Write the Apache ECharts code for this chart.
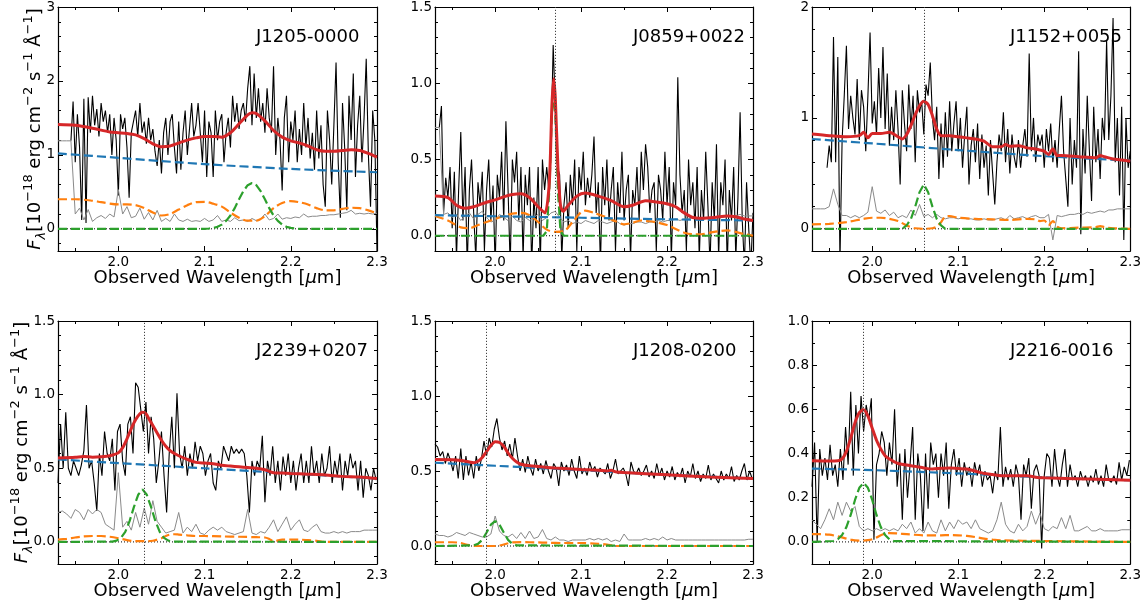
<!DOCTYPE html>
<html><head><meta charset="utf-8">
<script src="https://cdn.jsdelivr.net/npm/echarts@6/dist/echarts.min.js"></script>
<style>html,body{margin:0;padding:0;background:#fff}#c{width:1144px;height:605px}</style>
</head><body><div id="c"></div>
<script>
// ---------- axes / tick values ----------
const X_MIN = 1.93, X_MAX = 2.30;
const xMajorTicks = [2.0, 2.1, 2.2, 2.3];
const xMinorTicks = [1.95, 2.05, 2.15, 2.25];
const panelNames = ['J1205-0000', 'J0859+0022', 'J1152+0055', 'J2239+0207', 'J1208-0200', 'J2216-0016'];
const yMins = [-0.3, -0.1, -0.2, -0.15, -0.12, -0.1];
const yMaxs = [3, 1.5, 2, 1.5, 1.5, 1.0];
const yMajorTicks = [[0,1,2,3],[0,0.5,1,1.5],[0,1,2],[0,0.5,1,1.5],[0,0.5,1,1.5],[0,0.2,0.4,0.6,0.8,1.0]];
const yMinorTicks = [
  [-0.2,0.2,0.4,0.6,0.8,1.2,1.4,1.6,1.8,2.2,2.4,2.6,2.8],
  [0.1,0.2,0.3,0.4,0.6,0.7,0.8,0.9,1.1,1.2,1.3,1.4],
  [0.2,0.4,0.6,0.8,1.2,1.4,1.6,1.8],
  [-0.1,0.1,0.2,0.3,0.4,0.6,0.7,0.8,0.9,1.1,1.2,1.3,1.4],
  [-0.1,0.1,0.2,0.3,0.4,0.6,0.7,0.8,0.9,1.1,1.2,1.3,1.4],
  [0.1,0.3,0.5,0.7,0.9]
];
const yLabelDigits = [0,1,0,1,1,1];
const lineCenters = [null, 2.068, 2.06, 2.028, 1.991, 1.986];

// ---------- spectra (observed flux, black) ----------
const p1FluxStart = 1.945, p1FluxStep = 0.0025;
const p1Flux = [1.19,1.72,0.9,1.55,1.1,0.12,1.76,0.08,1.78,1.3,
1.8,1.4,1.62,1.25,1.7,1.45,1.6,1.3,1.55,1.0,
1.5,1.2,0.45,1.55,1.35,1.5,1.1,0.42,1.3,1.45,
1.6,1.25,1.7,1.3,1.45,1.15,1.5,1.2,1.35,1.05,
0.85,1.2,0.75,1.3,1.5,1.0,1.45,1.55,1.1,0.75,
1.45,0.8,1.3,1.6,1.0,1.35,1.7,1.25,1.4,1.7,
1.3,0.9,1.6,0.7,1.45,1.3,0.7,1.6,1.2,1.45,
1.55,0.9,1.3,1.5,1.1,1.8,1.45,1.7,1.35,1.6,
1.7,1.45,1.9,2.2,1.4,2.1,1.5,1.9,1.45,1.7,
1.3,1.9,1.5,1.3,2.2,1.0,1.5,1.2,0.52,1.5,
1.8,0.9,1.45,1.2,1.6,0.9,1.35,1.0,1.7,1.1,
1.5,0.95,1.3,0.8,1.6,0.95,1.4,0.6,0.3,1.6,
1.2,0.6,1.4,2.25,0.9,0.15,1.7,1.1,0.25,1.8,
1.2,2.1,0.7,1.4,1.8,0.9,1.5,2.3,1.0,0.3,
1.6,1.2,-0.3];
const p2FluxStart = 1.935, p2FluxStep = 0.0025;
const p2Flux = [0.71,0.85,0.15,0.38,0.25,0.45,0.05,0.42,-0.15,0.3,
0.68,0.1,0.45,-0.2,0.3,0.5,0.15,-0.15,0.35,0.2,
0.42,-0.1,0.3,0.5,0.1,0.33,-0.2,0.4,0.25,0.55,
0.1,0.75,0.3,-0.2,0.5,0.35,0.55,0.1,0.45,-0.15,
0.4,0.2,0.45,-0.2,0.25,0.05,0.45,-0.2,0.5,0.3,
0.45,0.3,0.6,1.25,0.85,0.45,0.4,-0.15,0.2,0.35,
0.05,0.4,0.2,0.5,-0.1,0.45,0.3,0.55,0.2,0.38,
0.25,0.4,0.65,0.15,0.35,-0.2,0.45,0.2,0.5,0.1,
0.3,0.45,-0.1,0.35,0.15,0.55,0.1,0.3,0.4,-0.15,
0.3,0.2,0.45,0.1,0.55,0.3,0.6,0.45,0.15,0.3,
0.35,-0.1,0.4,0.3,0.1,0.55,0.2,0.45,-0.15,0.35,
0.2,1.04,0.4,0.15,0.3,-0.1,0.5,0.2,0.35,0.05,
0.45,-0.15,0.3,0.1,0.55,0.2,-0.2,0.35,0.1,0.6,
-0.15,0.35,0.2,0.5,-0.2,0.3,0.1,0.45,-0.15,0.25,
0.81,0.1,-0.2,0.35,0.05,-0.2,0.15];
const p3FluxStart = 1.9475, p3FluxStep = 0.0025;
const p3Flux = [0.55,0.75,0.6,1.73,0.6,1.55,-0.3,0.8,1.2,1.65,
0.9,1.2,1.0,0.85,1.35,0.8,1.25,1.1,0.7,1.2,
1.77,0.95,1.15,0.85,1.45,1.0,1.64,0.9,1.4,0.75,
1.1,0.8,1.25,0.9,0.4,1.25,0.95,0.7,1.3,0.9,
1.2,0.6,1.25,1.05,1.15,0.85,1.3,1.2,1.5,1.0,
0.8,1.1,0.45,0.95,0.55,1.05,0.65,1.15,0.7,0.95,
1.15,0.7,1.0,0.55,0.85,1.1,0.4,0.75,0.9,0.6,
0.95,0.45,0.85,0.55,0.75,0.3,0.8,0.5,0.22,0.6,
0.85,0.7,1.05,0.6,0.9,0.5,0.85,0.65,0.55,0.8,
0.55,0.75,0.9,0.65,1.58,0.7,1.0,0.6,0.85,0.75,
0.85,0.55,0.9,0.7,0.95,0.6,0.8,0.55,0.9,1.2,
0.7,0.45,0.2,1.0,0.4,0.8,0.55,1.6,-0.05,0.9,
0.5,1.2,0.7,0.25,1.1,0.6,0.9,0.45,1.0,0.8,
1.7,0.8,1.2,1.9,0.6,1.0,0.3,1.1,-0.1,1.0,
0.55,0.7];
const p4FluxStart = 1.93, p4FluxStep = 0.003;
const p4Flux = [0.4,0.8,0.5,0.88,0.5,0.45,0.55,0.5,0.45,0.52,
0.62,0.93,0.5,0.55,0.4,0.21,0.6,0.45,0.75,0.6,
0.55,0.7,0.35,0.75,0.8,0.55,0.45,0.8,0.85,0.6,
1.08,1.05,0.9,0.75,0.95,0.6,0.85,0.7,0.4,0.55,
0.75,0.45,0.2,0.6,0.85,0.5,1.01,0.6,0.5,0.65,
0.45,0.6,0.5,0.68,0.55,0.65,0.6,0.45,0.55,0.6,
0.4,0.35,0.55,0.5,0.65,0.6,0.55,0.65,0.6,0.63,
0.6,0.63,0.6,0.45,0.2,0.55,0.45,0.55,0.5,0.72,
0.27,0.55,0.45,0.65,0.4,0.55,0.35,0.58,0.45,0.6,
0.4,0.55,0.35,0.5,0.6,0.4,0.55,0.4,0.65,0.45,
0.55,0.4,0.6,0.45,0.5,0.65,0.4,0.55,0.45,0.6,
0.35,0.55,0.45,0.6,0.5,0.55,0.35,0.55,0.3,0.5,
0.45,0.35,0.5,0.42];
const p5FluxStart = 1.93, p5FluxStep = 0.003;
const p5Flux = [0.68,0.66,0.6,0.63,0.55,0.62,0.57,0.5,0.6,0.45,
0.65,0.44,0.6,0.47,0.56,0.45,0.6,0.5,0.58,0.7,
0.6,0.72,0.66,0.78,0.85,0.72,0.64,0.7,0.6,0.68,
0.58,0.72,0.6,0.5,0.58,0.49,0.6,0.52,0.47,0.58,
0.5,0.55,0.48,0.57,0.5,0.45,0.55,0.52,0.4,0.56,
0.5,0.54,0.47,0.58,0.5,0.45,0.6,0.48,0.52,0.47,
0.56,0.5,0.53,0.46,0.52,0.5,0.48,0.55,0.45,0.5,
0.58,0.48,0.5,0.52,0.48,0.4,0.56,0.5,0.48,0.52,
0.47,0.5,0.54,0.46,0.5,0.45,0.55,0.47,0.52,0.44,
0.5,0.46,0.53,0.44,0.49,0.46,0.52,0.42,0.5,0.46,
0.55,0.45,0.5,0.43,0.48,0.45,0.54,0.44,0.48,0.45,
0.42,0.5,0.44,0.48,0.45,0.53,0.43,0.47,0.44,0.5,
0.55,0.44,0.5,0.45];
const p6FluxStart = 1.93, p6FluxStep = 0.003;
const p6Flux = [0.25,0.45,0.0,0.42,0.3,0.38,0.28,0.44,0.3,0.35,
0.25,0.42,0.28,0.52,0.35,0.68,0.3,0.62,0.4,0.66,
0.5,0.62,0.55,0.65,0.01,0.35,0.4,0.5,0.45,0.3,
0.45,0.35,0.6,0.25,0.4,0.1,0.42,0.2,0.35,0.52,
0.1,0.4,0.3,0.05,0.4,0.15,0.45,0.35,0.4,0.2,
0.4,0.3,0.45,0.15,0.35,0.42,0.3,0.38,0.25,0.36,
0.3,0.34,0.25,0.36,0.3,0.35,0.25,0.32,0.28,0.3,
0.22,0.32,0.28,0.52,0.25,0.34,0.28,0.33,0.25,0.35,
0.3,0.1,0.35,0.3,0.38,0.15,0.32,0.35,0.3,-0.03,
0.3,0.4,0.38,0.25,0.42,0.3,0.25,0.35,0.42,0.25,
0.35,0.28,0.3,0.25,0.32,0.28,0.3,0.25,0.3,0.27,
0.33,0.26,0.3,0.25,0.35,0.28,0.27,0.3,0.26,0.36,
0.28,0.34,0.3,0.37];

// ---------- error spectra (grey), start 1.93, step 0.005 ----------
const errStart = 1.93, errStep = 0.005;
const p1Err = [1.19,1.19,1.19,1.19,
0.2,0.28,0.12,0.26,0.1,0.15,0.18,0.14,0.2,0.16,
0.53,0.2,0.3,0.15,0.17,0.28,0.13,0.22,0.12,0.25,
0.1,0.14,0.1,0.2,0.12,0.1,0.13,0.1,0.11,0.1,
0.14,0.1,0.12,0.18,0.1,0.12,0.1,0.15,0.11,0.12,
0.1,0.14,0.11,0.13,0.2,0.12,0.14,0.2,0.13,0.15,
0.14,0.16,0.15,0.2,0.16,0.17,0.17,0.18,0.18,0.19,
0.19,0.2,0.21,0.22,0.25,0.2,0.21,0.2,0.21,0.2,
0.21];
const p2Err = [0.71,0.71,0.14,0.15,0.12,0.14,0.1,0.13,0.15,0.11,
0.14,0.16,0.12,0.09,0.1,0.14,0.12,0.1,0.13,0.1,
0.09,0.12,0.1,0.12,0.14,0.1,0.12,0.15,0.16,0.12,
0.09,0.1,0.08,0.09,0.08,0.1,0.09,0.08,0.1,0.09,
0.08,0.09,0.1,0.08,0.07,0.08,0.08,0.09,0.09,0.08,
0.09,0.09,0.1,0.09,0.1,0.1,0.11,0.1,0.11,0.11,
0.12,0.11,0.12,0.12,0.12,0.12,0.13,0.12,0.13,0.13,
0.13,0.14,0.13,0.13,0.13];
const p3Err = [0.18,0.18,0.18,0.18,0.2,0.36,0.22,0.12,0.12,0.1,
0.12,0.1,0.12,0.15,0.38,0.16,0.14,0.17,0.12,0.15,
0.1,0.12,0.1,0.17,0.12,0.22,0.11,0.13,0.1,0.13,
0.1,0.09,0.1,0.1,0.09,0.1,0.09,0.09,0.08,0.08,
0.09,0.08,0.08,0.09,0.1,0.08,0.12,0.09,0.1,0.11,
0.09,0.11,0.12,0.1,0.1,0.13,-0.1,0.12,0.11,0.12,
0.13,0.13,0.14,0.13,0.15,0.14,0.15,0.16,0.15,0.17,
0.17,0.18,0.18,0.18,0.18];
const p4Err = [0.2,0.21,0.19,0.16,0.22,0.2,0.15,0.22,0.19,0.22,
0.2,0.12,0.1,0.08,0.47,0.1,0.14,0.08,0.2,0.1,
0.23,0.12,0.28,0.14,0.1,0.06,0.07,0.08,0.2,0.06,
0.1,0.07,0.12,0.06,0.05,0.08,0.1,0.08,0.1,0.07,
0.06,0.05,0.06,0.07,0.22,0.06,0.05,0.07,0.06,0.1,
0.15,0.07,0.12,0.17,0.08,0.12,0.15,0.08,0.07,0.1,
0.12,0.07,0.06,0.06,0.07,0.06,0.07,0.06,0.07,0.07,
0.07,0.08,0.08,0.08,0.08];
const p5Err = [0.08,0.07,0.07,0.06,0.07,0.09,0.08,0.07,0.09,0.08,
0.07,0.06,0.06,0.08,0.2,0.1,0.07,0.06,0.08,0.05,
0.09,0.05,0.1,0.05,0.06,0.11,0.05,0.04,0.06,0.04,
0.04,0.03,0.04,0.04,0.04,0.04,0.05,0.04,0.05,0.04,
0.05,0.03,0.04,0.03,0.08,0.04,0.04,0.04,0.04,0.05,
0.04,0.05,0.04,0.06,0.04,0.05,0.04,0.04,0.04,0.04,
0.04,0.04,0.04,0.04,0.04,0.04,0.04,0.04,0.04,0.04,
0.04,0.04,0.04,0.045,0.045];
const p6Err = [0.1,0.08,0.06,0.1,0.15,0.1,0.18,0.12,0.18,0.14,
0.16,0.07,0.05,0.06,0.05,0.06,0.05,0.06,0.05,0.06,
0.05,0.08,0.06,0.09,0.04,0.06,0.04,0.09,0.05,0.04,
0.1,0.05,0.09,0.06,0.1,0.08,0.09,0.06,0.1,0.06,
0.05,0.04,0.05,0.1,0.18,0.08,0.05,0.04,0.08,0.05,
0.07,0.14,0.08,0.13,0.06,0.05,0.07,0.06,0.11,0.06,
0.12,0.05,0.05,0.06,0.07,0.05,0.05,0.06,0.05,0.05,
0.05,0.05,0.055,0.055,0.055];

// ---------- best-fit model (red) ----------
const p1ModelX = [1.93,1.95,1.97,1.99,2.0,2.01,2.02,2.03,2.04,2.05,2.06,2.07,2.08,2.09,2.1,2.11,2.12,2.13,2.14,2.15,2.155,2.16,2.17,2.18,2.19,2.2,2.21,2.22,2.23,2.24,2.25,2.26,2.27,2.28,2.29,2.3];
const p1ModelY = [1.41,1.40,1.36,1.31,1.30,1.29,1.27,1.22,1.15,1.11,1.12,1.16,1.20,1.23,1.25,1.25,1.24,1.30,1.42,1.54,1.57,1.56,1.46,1.33,1.24,1.19,1.16,1.12,1.07,1.05,1.05,1.06,1.07,1.06,1.02,0.97];
const p2ModelX = [1.93,1.945,1.955,1.965,1.975,1.99,2.0,2.01,2.02,2.03,2.04,2.05,2.058,2.063,2.066,2.068,2.07,2.073,2.076,2.079,2.085,2.095,2.105,2.12,2.135,2.15,2.16,2.175,2.19,2.2,2.21,2.22,2.23,2.24,2.255,2.27,2.28,2.29,2.3];
const p2ModelY = [0.26,0.25,0.2,0.18,0.19,0.22,0.235,0.255,0.27,0.275,0.25,0.19,0.15,0.35,0.85,1.03,0.9,0.45,0.2,0.16,0.2,0.26,0.28,0.26,0.23,0.19,0.2,0.23,0.22,0.21,0.19,0.15,0.12,0.115,0.12,0.13,0.125,0.11,0.1];
const p3ModelX = [1.93,1.95,1.97,1.985,1.99,1.995,2.0,2.01,2.02,2.03,2.035,2.04,2.045,2.05,2.055,2.06,2.065,2.07,2.075,2.08,2.09,2.1,2.11,2.12,2.13,2.14,2.15,2.155,2.16,2.17,2.18,2.19,2.195,2.2,2.205,2.21,2.215,2.22,2.24,2.26,2.265,2.27,2.28,2.29,2.3];
const p3ModelY = [0.855,0.84,0.83,0.84,0.87,0.82,0.86,0.86,0.87,0.83,0.81,0.85,0.93,1.03,1.11,1.15,1.12,1.02,0.9,0.84,0.84,0.83,0.82,0.81,0.79,0.74,0.74,0.76,0.745,0.75,0.73,0.72,0.71,0.7,0.67,0.72,0.66,0.66,0.65,0.64,0.66,0.65,0.63,0.62,0.61];
const p4ModelX = [1.93,1.95,1.96,1.97,1.98,1.99,2.0,2.005,2.01,2.015,2.02,2.025,2.028,2.032,2.036,2.04,2.045,2.05,2.055,2.06,2.065,2.07,2.08,2.09,2.1,2.11,2.12,2.13,2.14,2.15,2.16,2.17,2.18,2.19,2.2,2.22,2.24,2.26,2.28,2.3];
const p4ModelY = [0.57,0.575,0.58,0.575,0.578,0.585,0.605,0.64,0.7,0.77,0.83,0.87,0.88,0.87,0.83,0.79,0.74,0.69,0.65,0.62,0.6,0.585,0.56,0.54,0.535,0.53,0.52,0.515,0.51,0.505,0.5,0.49,0.47,0.468,0.465,0.46,0.455,0.445,0.44,0.43];
const p5ModelX = [1.93,1.95,1.96,1.97,1.975,1.98,1.985,1.99,1.995,2.0,2.005,2.01,2.015,2.02,2.025,2.03,2.04,2.05,2.07,2.1,2.12,2.13,2.135,2.14,2.15,2.2,2.25,2.3];
const p5ModelY = [0.576,0.575,0.57,0.56,0.555,0.565,0.59,0.63,0.67,0.695,0.69,0.665,0.62,0.585,0.56,0.545,0.535,0.53,0.52,0.51,0.505,0.5,0.505,0.495,0.49,0.475,0.46,0.45];
const p6ModelX = [1.93,1.95,1.96,1.965,1.97,1.975,1.98,1.985,1.99,1.995,2.0,2.005,2.01,2.015,2.02,2.03,2.04,2.05,2.06,2.07,2.08,2.09,2.1,2.11,2.12,2.13,2.14,2.15,2.16,2.18,2.19,2.2,2.25,2.3];
const p6ModelY = [0.367,0.366,0.367,0.375,0.41,0.47,0.54,0.585,0.598,0.57,0.515,0.46,0.42,0.39,0.375,0.355,0.348,0.342,0.335,0.33,0.333,0.335,0.332,0.33,0.32,0.31,0.305,0.3,0.3,0.3,0.293,0.29,0.285,0.279];

// ---------- continuum (blue dashed) ----------
const contX = [1.93, 2.0, 2.1, 2.2, 2.3];
const p1Cont = [1.02, 0.96, 0.875, 0.81, 0.765];
const p2Cont = [0.135, 0.128, 0.118, 0.108, 0.10];
const p3Cont = [0.81, 0.77, 0.71, 0.655, 0.615];
const p4Cont = [0.56, 0.535, 0.5, 0.465, 0.43];
const p5Cont = [0.555, 0.535, 0.505, 0.475, 0.45];
const p6Cont = [0.332, 0.325, 0.31, 0.292, 0.279];

// ---------- Fe / other component (orange dashed) ----------
const p1OrangeX = [1.93,1.95,1.97,1.98,2.0,2.01,2.02,2.03,2.04,2.05,2.06,2.07,2.08,2.09,2.1,2.11,2.12,2.13,2.14,2.15,2.16,2.17,2.18,2.19,2.2,2.21,2.22,2.23,2.24,2.25,2.26,2.27,2.28,2.29,2.3];
const p1OrangeY = [0.40,0.40,0.38,0.36,0.33,0.33,0.32,0.28,0.22,0.18,0.2,0.26,0.32,0.36,0.365,0.34,0.3,0.22,0.15,0.11,0.11,0.17,0.28,0.35,0.375,0.36,0.33,0.28,0.25,0.25,0.27,0.285,0.28,0.25,0.21];
const p2OrangeX = [1.93,1.945,1.96,1.97,1.98,1.99,2.0,2.01,2.02,2.03,2.04,2.05,2.06,2.07,2.08,2.09,2.1,2.105,2.115,2.13,2.14,2.15,2.16,2.17,2.18,2.19,2.2,2.21,2.22,2.23,2.24,2.25,2.26,2.27,2.28,2.29,2.3];
const p2OrangeY = [0.13,0.1,0.055,0.05,0.07,0.09,0.11,0.13,0.145,0.15,0.135,0.09,0.04,0.025,0.03,0.09,0.155,0.165,0.15,0.12,0.095,0.075,0.085,0.1,0.095,0.085,0.07,0.045,0.02,0.01,0.01,0.02,0.03,0.035,0.025,0.01,0.0];
const p3OrangeX = [1.93,1.95,1.97,1.99,2.0,2.01,2.02,2.03,2.04,2.045,2.05,2.06,2.07,2.075,2.08,2.085,2.09,2.1,2.12,2.14,2.16,2.18,2.19,2.195,2.2,2.205,2.21,2.215,2.22,2.24,2.26,2.265,2.27,2.28,2.3];
const p3OrangeY = [0.04,0.045,0.06,0.09,0.1,0.1,0.09,0.07,0.03,0.015,0.005,0.0,0.005,0.02,0.06,0.11,0.115,0.1,0.09,0.085,0.08,0.09,0.085,0.07,0.075,0.03,0.07,0.02,0.005,0.01,0.015,0.025,0.015,0.005,0.0];
const p4OrangeX = [1.93,1.94,1.95,1.96,1.97,1.98,1.99,2.0,2.01,2.02,2.03,2.04,2.05,2.055,2.06,2.065,2.07,2.08,2.09,2.1,2.12,2.14,2.16,2.17,2.175,2.18,2.185,2.19,2.2,2.21,2.22,2.23,2.24,2.3];
const p4OrangeY = [0.015,0.02,0.03,0.038,0.04,0.04,0.035,0.025,0.012,0.005,0.005,0.008,0.025,0.04,0.05,0.052,0.05,0.045,0.04,0.04,0.037,0.035,0.032,0.03,0.02,0.005,0.01,0.015,0.015,0.015,0.012,0.008,0.0,0.0];
const p5OrangeX = [1.93,1.95,1.96,1.965,1.97,1.975,1.98,2.0,2.005,2.01,2.015,2.02,2.03,2.04,2.05,2.06,2.08,2.1,2.12,2.13,2.135,2.14,2.3];
const p5OrangeY = [0.025,0.025,0.02,0.012,0.006,0.002,0,0,0.003,0.01,0.018,0.024,0.026,0.025,0.024,0.022,0.02,0.02,0.015,0.01,0.005,0,0];
const p6OrangeX = [1.93,1.94,1.95,1.96,1.97,1.975,1.98,1.99,1.995,2.0,2.005,2.01,2.015,2.02,2.03,2.04,2.06,2.08,2.09,2.1,2.11,2.12,2.13,2.14,2.15,2.2,2.3];
const p6OrangeY = [0.035,0.035,0.033,0.025,0.015,0.01,0.007,0.006,0.008,0.012,0.02,0.03,0.037,0.04,0.038,0.035,0.03,0.03,0.031,0.03,0.027,0.022,0.015,0.01,0.007,0.004,0.0];

// ---------- emission line (green dashed) ----------
const p1LineX = [1.93,2.1,2.105,2.11,2.115,2.12,2.125,2.13,2.135,2.14,2.145,2.15,2.155,2.16,2.165,2.17,2.175,2.18,2.185,2.19,2.195,2.2,2.205,2.21,2.3];
const p1LineY = [0,0,0.004,0.012,0.027,0.057,0.107,0.18,0.28,0.4,0.51,0.59,0.62,0.59,0.51,0.4,0.28,0.18,0.107,0.057,0.027,0.012,0.004,0,0];
const p2LineX = [1.93,2.056,2.06,2.063,2.066,2.068,2.07,2.073,2.076,2.08,2.3];
const p2LineY = [0,0,0.03,0.3,0.8,0.93,0.8,0.3,0.03,0,0];
const p3LineX = [1.93,2.035,2.04,2.045,2.05,2.055,2.06,2.065,2.07,2.075,2.08,2.085,2.3];
const p3LineY = [0,0,0.03,0.09,0.2,0.33,0.4,0.33,0.2,0.09,0.03,0,0];
const p4LineX = [1.93,1.993,1.998,2.003,2.008,2.013,2.018,2.023,2.028,2.033,2.038,2.043,2.048,2.053,2.058,2.063,2.3];
const p4LineY = [0,0.002,0.009,0.027,0.068,0.141,0.236,0.32,0.357,0.32,0.236,0.141,0.068,0.027,0.009,0.002,0];
const p5LineX = [1.93,1.975,1.98,1.985,1.99,1.995,2.0,2.005,2.01,2.015,2.02,2.025,2.3];
const p5LineY = [0,0.004,0.014,0.041,0.09,0.142,0.166,0.142,0.09,0.041,0.014,0.004,0];
const p6LineX = [1.93,1.955,1.96,1.965,1.97,1.975,1.98,1.985,1.99,1.995,2.0,2.005,2.01,2.015,2.02,2.025,2.3];
const p6LineY = [0,0.004,0.012,0.031,0.067,0.122,0.19,0.245,0.267,0.245,0.19,0.122,0.067,0.031,0.012,0.004,0];

// ---------- assemble ----------
const FONT = 'DejaVu Sans';
const seq = (start, step, vals) => vals.map((v, i) => [+(start + step * i).toFixed(5), v]);
const pairs = (xs, ys) => xs.map((x, i) => [x, ys[i]]);

const panels = [
  {flux: seq(p1FluxStart, p1FluxStep, p1Flux), err: seq(errStart, errStep, p1Err), model: pairs(p1ModelX, p1ModelY), cont: pairs(contX, p1Cont), orange: pairs(p1OrangeX, p1OrangeY), line: pairs(p1LineX, p1LineY)},
  {flux: seq(p2FluxStart, p2FluxStep, p2Flux), err: seq(errStart, errStep, p2Err), model: pairs(p2ModelX, p2ModelY), cont: pairs(contX, p2Cont), orange: pairs(p2OrangeX, p2OrangeY), line: pairs(p2LineX, p2LineY)},
  {flux: seq(p3FluxStart, p3FluxStep, p3Flux), err: seq(errStart, errStep, p3Err), model: pairs(p3ModelX, p3ModelY), cont: pairs(contX, p3Cont), orange: pairs(p3OrangeX, p3OrangeY), line: pairs(p3LineX, p3LineY)},
  {flux: seq(p4FluxStart, p4FluxStep, p4Flux), err: seq(errStart, errStep, p4Err), model: pairs(p4ModelX, p4ModelY), cont: pairs(contX, p4Cont), orange: pairs(p4OrangeX, p4OrangeY), line: pairs(p4LineX, p4LineY)},
  {flux: seq(p5FluxStart, p5FluxStep, p5Flux), err: seq(errStart, errStep, p5Err), model: pairs(p5ModelX, p5ModelY), cont: pairs(contX, p5Cont), orange: pairs(p5OrangeX, p5OrangeY), line: pairs(p5LineX, p5LineY)},
  {flux: seq(p6FluxStart, p6FluxStep, p6Flux), err: seq(errStart, errStep, p6Err), model: pairs(p6ModelX, p6ModelY), cont: pairs(contX, p6Cont), orange: pairs(p6OrangeX, p6OrangeY), line: pairs(p6LineX, p6LineY)}
];

const layout = [
  {left: 58, top: 7, w: 319, h: 244, yNameGap: 10},
  {left: 435, top: 7, w: 318, h: 244},
  {left: 812, top: 7, w: 319, h: 244},
  {left: 58, top: 321, w: 319, h: 243, yNameGap: 23},
  {left: 435, top: 321, w: 318, h: 243},
  {left: 812, top: 321, w: 319, h: 243}
];

const yTitle = '{it|F}{sub|λ}[10{sup|−18} erg cm{sup|−2} s{sup|−1} Å{sup|−1}]';
const dash = [9, 4];

const option = {
  animation: false,
  backgroundColor: '#ffffff',
  textStyle: {fontFamily: FONT},
  grid: [], xAxis: [], yAxis: [], series: [], graphic: []
};

panels.forEach((p, k) => {
  const L = layout[k];
  option.grid.push({left: L.left, top: L.top, width: L.w, height: L.h, containLabel: false});
  const spine = {show: true, onZero: false, lineStyle: {color: '#000', width: 1.2}};
  const noLine = {show: false, onZero: false};
  const tick = (vals, len) => ({show: true, inside: true, length: len, customValues: vals, lineStyle: {color: '#000', width: 1}});
  const xb = {type: 'value', gridIndex: k, min: X_MIN, max: X_MAX, splitLine: {show: false}, axisPointer: {show: false}};
  option.xAxis.push(Object.assign({}, xb, {
    position: 'bottom', axisLine: spine, axisTick: tick(xMajorTicks, 5),
    axisLabel: {show: true, customValues: xMajorTicks, formatter: v => v.toFixed(1), fontSize: 13.5, color: '#000', margin: 4, fontFamily: FONT},
    name: 'Observed Wavelength [{it|μ}m]', nameLocation: 'middle', nameGap: 17, nameMoveOverlap: false,
    nameTextStyle: {fontSize: 18, color: '#000', fontFamily: FONT, lineHeight: 20, rich: {it: {fontSize: 18, fontStyle: 'italic', fontFamily: FONT, lineHeight: 20}}}
  }));
  option.xAxis.push(Object.assign({}, xb, {position: 'bottom', axisLine: noLine, axisTick: tick(xMinorTicks, 3), axisLabel: {show: false}}));
  option.xAxis.push(Object.assign({}, xb, {position: 'top', axisLine: spine, axisTick: tick(xMajorTicks, 5), axisLabel: {show: false}}));
  option.xAxis.push(Object.assign({}, xb, {position: 'top', axisLine: noLine, axisTick: tick(xMinorTicks, 3), axisLabel: {show: false}}));

  const yb = {type: 'value', gridIndex: k, min: yMins[k], max: yMaxs[k], splitLine: {show: false}, axisPointer: {show: false}};
  const digits = yLabelDigits[k];
  const yMain = Object.assign({}, yb, {
    position: 'left', axisLine: spine, axisTick: tick(yMajorTicks[k], 5),
    axisLabel: {show: true, customValues: yMajorTicks[k], formatter: v => v.toFixed(digits), fontSize: 13.5, color: '#000', margin: 3, fontFamily: FONT}
  });
  if (k % 3 === 0) {
    Object.assign(yMain, {
      name: yTitle, nameLocation: 'middle', nameRotate: 90, nameGap: L.yNameGap, nameMoveOverlap: false,
      nameTextStyle: {fontSize: 18, color: '#000', fontFamily: FONT, lineHeight: 26, rich: {
        it: {fontSize: 18, fontStyle: 'italic', fontFamily: FONT, lineHeight: 26},
        sub: {fontSize: 13, fontStyle: 'italic', fontFamily: FONT, lineHeight: 16, verticalAlign: 'bottom'},
        sup: {fontSize: 13, fontFamily: FONT, lineHeight: 14, verticalAlign: 'top'}
      }}
    });
  }
  option.yAxis.push(yMain);
  option.yAxis.push(Object.assign({}, yb, {position: 'left', axisLine: noLine, axisTick: tick(yMinorTicks[k], 3), axisLabel: {show: false}}));
  option.yAxis.push(Object.assign({}, yb, {position: 'right', axisLine: spine, axisTick: tick(yMajorTicks[k], 5), axisLabel: {show: false}}));
  option.yAxis.push(Object.assign({}, yb, {position: 'right', axisLine: noLine, axisTick: tick(yMinorTicks[k], 3), axisLabel: {show: false}}));

  const base = {type: 'line', xAxisIndex: 4 * k, yAxisIndex: 4 * k, showSymbol: false, symbol: 'none', silent: true, animation: false, clip: true};
  option.series.push(Object.assign({}, base, {data: p.flux, lineStyle: {color: '#000', width: 1.1}}));
  option.series.push(Object.assign({}, base, {data: p.err, lineStyle: {color: '#8a8a8a', width: 1}}));
  const zero = Object.assign({}, base, {data: [[X_MIN, 0], [X_MAX, 0]], lineStyle: {color: '#000', width: 1, type: [1, 2]}});
  if (lineCenters[k] !== null) {
    zero.markLine = {silent: true, symbol: ['none', 'none'], label: {show: false}, animation: false,
      lineStyle: {type: [1.2, 1.8], color: '#444', width: 1}, data: [{xAxis: lineCenters[k]}]};
  }
  option.series.push(zero);
  option.series.push(Object.assign({}, base, {data: p.orange, smooth: 0.3, lineStyle: {color: '#ff7f0e', width: 2.2, type: dash}}));
  option.series.push(Object.assign({}, base, {data: p.line, lineStyle: {color: '#2ca02c', width: 2.2, type: dash}}));
  option.series.push(Object.assign({}, base, {data: p.cont, smooth: 0.3, lineStyle: {color: '#1f77b4', width: 2.2, type: dash}}));
  option.series.push(Object.assign({}, base, {data: p.model, smooth: 0.25, lineStyle: {color: '#d62728', width: 3}}));

  option.graphic.push({type: 'text', x: L.left + 198, y: L.top + 30, z: 100, silent: true,
    style: {text: panelNames[k], fontSize: 18, fontFamily: FONT, fill: '#000', textAlign: 'left', textVerticalAlign: 'middle', align: 'left', verticalAlign: 'middle'}});
});

const chart = echarts.init(document.getElementById('c'), null, {renderer: 'canvas'});
chart.setOption(option);
</script></body></html>
